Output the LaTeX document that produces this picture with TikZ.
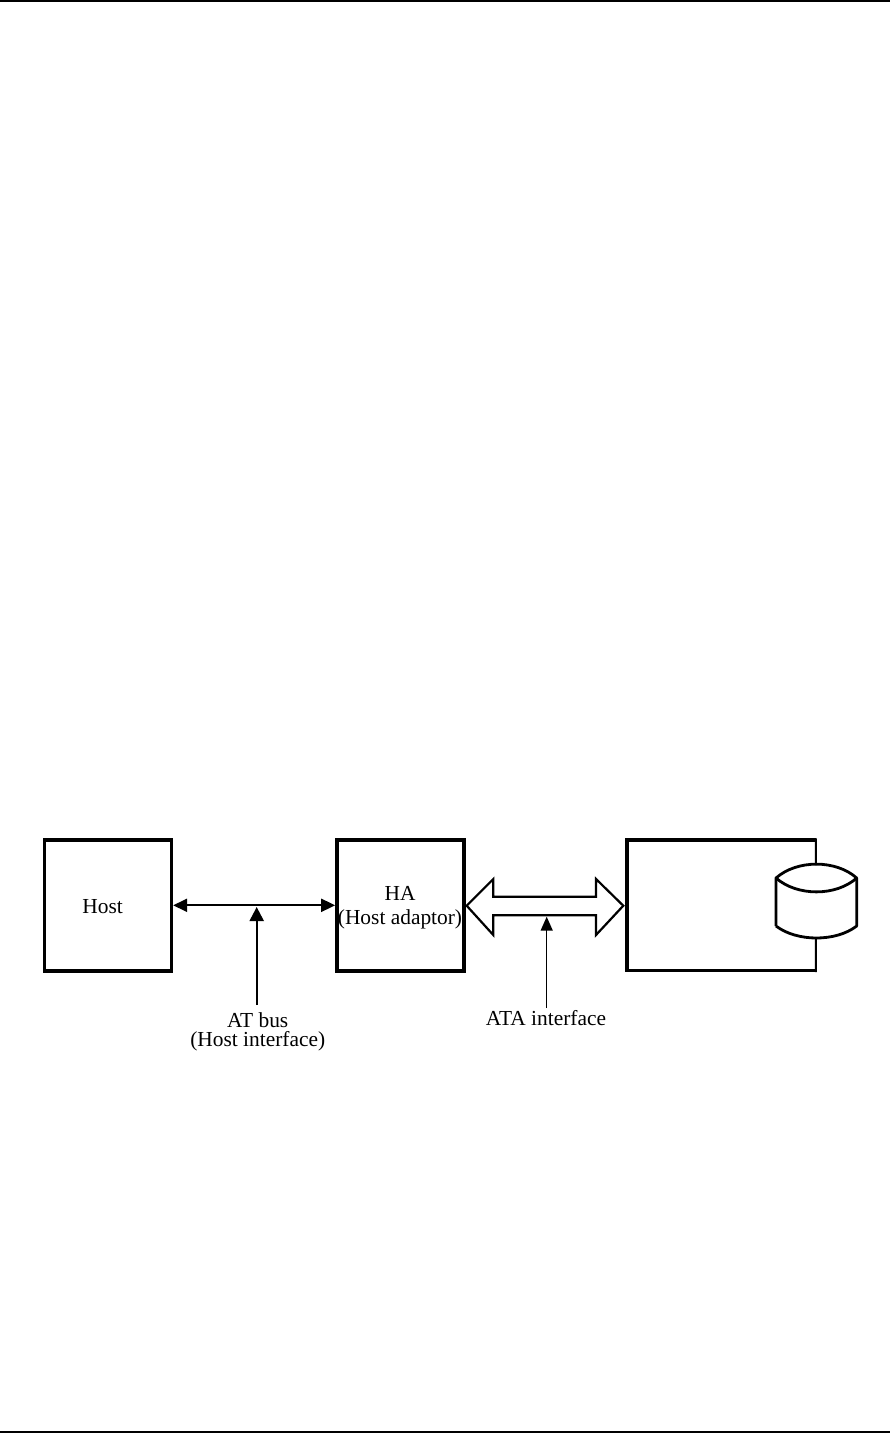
\documentclass[tikz,border=0pt]{standalone}
\usepackage{fontspec}
\setmainfont{Liberation Serif}
\usetikzlibrary{arrows.meta}
\tikzset{
  x=1pt,y=-1pt,
  box/.style={draw=black,line width=3.5pt,minimum width=127pt,minimum height=131pt,inner sep=0pt},
  lbl/.style={font=\fontsize{21.4}{22}\selectfont,inner sep=0pt,align=center,text=black},
  rule/.style={draw=black,line width=1.5pt},
  thinconn/.style={draw=black,line width=2.2pt},
  bighead/.style={-{Triangle[length=14pt,width=14pt]}},
}
\begin{document}
\begin{tikzpicture}
\useasboundingbox[fill=white] (0,0) rectangle (890,1433);
\coordinate (tl) at (0,0.8);\coordinate (tr) at (890,0.8);
\coordinate (bl) at (0,1432.2);\coordinate (br) at (890,1432.2);
\draw[rule] (tl) -- (tr);
\draw[rule] (bl) -- (br);
% boxes
\node[box] (host) at (107.9,905.3) {};
\node[box] (ha) at (400.4,905.3) {};
\node[lbl] (hosttxt) at (102.7,906.7) {Host};
\node[lbl] (hatxt) at (400,893.5) {HA};
\node[lbl] (hatxtb) at (400,919.5) {(Host adaptor)};
% host interface
\draw[thinconn,{Triangle[length=14pt,width=13pt]}-{Triangle[length=14pt,width=13pt]}] (host.east) -- (ha.west);
\coordinate (atmid) at (256.7,907);
\node[lbl] (atl) at (257.7,1020) {AT bus};
\node[lbl] (atlb) at (257.7,1041.5) {(Host interface)};
\coordinate (atfoot) at (256.7,1005);
\draw[thinconn,bighead] (atfoot) -- (atmid);
% drive box
\coordinate (db) at (816,840);\coordinate (dc) at (626.8,840);
\coordinate (dd) at (626.8,970.5);\coordinate (de) at (816,970.5);
\coordinate (da) at (816,865);\coordinate (df) at (816,938);
\draw[line width=3.5pt,line cap=butt,line join=miter] (db) -- (dc) -- (dd) -- (de);
\draw[line width=2pt] (815.8,838.3) -- (da);
\draw[line width=2pt] (df) -- (815.8,972.2);
% cylinder
\draw[line width=2.8pt,line join=round] (776,926) -- (776,878)
  .. controls (797,859.5) and (836,859.5) .. (856.7,878) -- (856.7,926)
  .. controls (836,942) and (797,942) .. (776,926);
\draw[line width=2.8pt] (776,878) .. controls (797,896.5) and (836,896.5) .. (856.7,878);
% ATA bus
\coordinate (tipl) at (466.7,905.7);\coordinate (tipr) at (623.3,905.7);
\draw[draw=black,line width=2.2pt,line join=miter,fill=white] (tipl) -- (493.3,879) -- (493.3,896.7) -- (596,896.7)
  -- (596,879) -- (tipr) -- (596,935) -- (596,915.3) -- (493.3,915.3) -- (493.3,935) -- cycle;
\coordinate (atamid) at (546.7,916.7);
\node[lbl] (atal) at (546,1018.5) {ATA interface};
\coordinate (atafoot) at (546.7,1008);
\draw[draw=black,line width=1.5pt,-{Triangle[length=14pt,width=12pt]}] (atafoot) -- (atamid);
\end{tikzpicture}
\end{document}
